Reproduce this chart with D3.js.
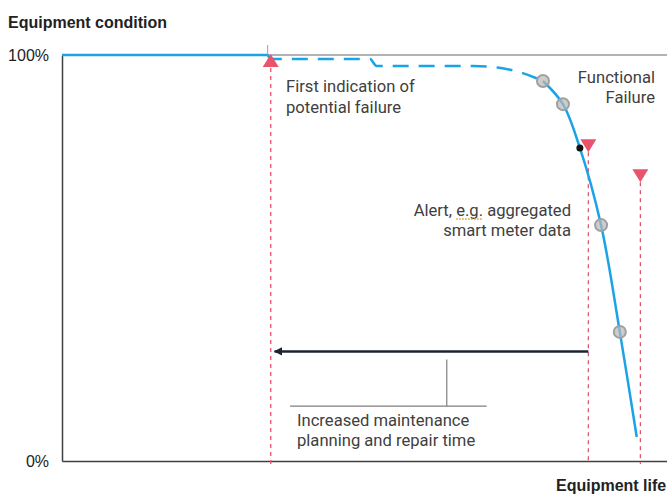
<!DOCTYPE html>
<html>
<head>
<meta charset="utf-8">
<script src="https://cdn.jsdelivr.net/npm/d3@7"></script>
<style>
  html, body { margin: 0; padding: 0; background: #fff; }
  svg { display: block; }
</style>
</head>
<body>
<svg id="chart"></svg>
<script>
// condition curve, x = % of equipment life, y = % condition
const solidStart = [[0, 100], [34, 100]];
const dashedPart = [[34, 100], [34.6, 99], [50.9, 99], [52, 97.3], [68, 97.3], [72, 96.9], [76, 95.6], [79.5, 93.6]];
const solidEnd = [[79.5, 93.6], [82.8, 87.9], [85.6, 77.1], [89.1, 58.1], [92.2, 31.8], [95, 5.9]];
// grey sample points on the curve
const samplePoints = [[79.5, 93.6], [82.8, 87.9], [89.1, 58.1], [92.2, 31.8]];
const alertPoint = [85.6, 77.1];
// markers: x position, y of triangle, direction
const markers = [
  { x: 34.5, y: 98.5, dir: "up" },
  { x: 87, y: 77.8, dir: "down" },
  { x: 95.6, y: 70.4, dir: "down" }
];
const yTicks = [0, 100];

const width = 667, height = 494;
const margin = { left: 62, right: 0, top: 55, bottom: 33 };

const svg = d3.select("#chart").attr("width", width).attr("height", height);

const x = d3.scaleLinear().domain([0, 100]).range([margin.left, width - margin.right]);
const y = d3.scaleLinear().domain([0, 100]).range([height - margin.bottom, margin.top]);

const textFont = "Roboto, 'Liberation Sans', Arial, sans-serif";
const axisFont = "'Liberation Sans', Arial, sans-serif";

// top grey reference line
svg.append("line")
    .attr("x1", x(34)).attr("x2", x(100))
    .attr("y1", y(100)).attr("y2", y(100))
    .attr("stroke", "#9a9a9a").attr("stroke-width", 1.5);
svg.append("line")
    .attr("x1", x(34)).attr("x2", x(34))
    .attr("y1", y(100) - 10).attr("y2", y(100))
    .attr("stroke", "#9a9a9a").attr("stroke-width", 1);

// axes
const yAxis = svg.append("g")
    .attr("transform", `translate(${margin.left},0)`)
    .call(d3.axisLeft(y).tickValues(yTicks).tickSize(0).tickPadding(13).tickFormat(d => d + "%"));
yAxis.select(".domain").attr("stroke", "#404040").attr("stroke-width", 1.5);
yAxis.selectAll("text").attr("font-family", axisFont).attr("font-size", 16).attr("fill", "#222");

const xAxis = svg.append("g")
    .attr("transform", `translate(0,${y(0)})`)
    .call(d3.axisBottom(x).tickValues([]).tickSizeOuter(0));
xAxis.select(".domain").attr("stroke", "#404040").attr("stroke-width", 1.5);

// axis titles
svg.append("text")
    .attr("x", 8).attr("y", 28)
    .attr("font-family", axisFont).attr("font-size", 16).attr("font-weight", "bold").attr("fill", "#222")
    .text("Equipment condition");
svg.append("text")
    .attr("x", 556).attr("y", 491)
    .attr("font-family", axisFont).attr("font-size", 16).attr("font-weight", "bold").attr("fill", "#222")
    .text("Equipment life");

// red dashed verticals
const red = "#e8546c";
svg.selectAll(".vline").data(markers).join("line")
    .attr("class", "vline")
    .attr("x1", d => x(d.x)).attr("x2", d => x(d.x))
    .attr("y1", d => y(d.y) + 7).attr("y2", y(0) + 3)
    .attr("stroke", red).attr("stroke-width", 1.3).attr("stroke-dasharray", "4,4");

// curve
const line = d3.line().x(d => x(d[0])).y(d => y(d[1])).curve(d3.curveMonotoneX);
const blue = "#1ba3e8";
svg.append("path").datum(solidStart).attr("d", line)
    .attr("fill", "none").attr("stroke", blue).attr("stroke-width", 2.5);
svg.append("path").datum(dashedPart).attr("d", line)
    .attr("fill", "none").attr("stroke", blue).attr("stroke-width", 2.5)
    .attr("stroke-dasharray", "16,10");
svg.append("path").datum(solidEnd).attr("d", d3.line().x(d => x(d[0])).y(d => y(d[1])).curve(d3.curveCatmullRom))
    .attr("fill", "none").attr("stroke", blue).attr("stroke-width", 2.5);

// sample points
svg.selectAll(".pt").data(samplePoints).join("circle")
    .attr("class", "pt")
    .attr("cx", d => x(d[0])).attr("cy", d => y(d[1])).attr("r", 6)
    .attr("fill", "#b8b8b8").attr("fill-opacity", 0.7)
    .attr("stroke", "#a0a0a0").attr("stroke-width", 2);
svg.append("circle")
    .attr("cx", x(alertPoint[0])).attr("cy", y(alertPoint[1])).attr("r", 3.5)
    .attr("fill", "#111");

// triangles
svg.selectAll(".tri").data(markers).join("path")
    .attr("class", "tri")
    .attr("transform", d => `translate(${x(d.x)},${y(d.y)})`)
    .attr("d", d => d.dir === "up" ? "M0,-7L8,6L-8,6Z" : "M-8,-6L8,-6L0,7Z")
    .attr("fill", red);

// maintenance arrow
svg.append("defs").append("marker")
    .attr("id", "arrow").attr("viewBox", "0 0 10 10")
    .attr("refX", 9).attr("refY", 5)
    .attr("markerWidth", 3.5).attr("markerHeight", 3.5)
    .attr("orient", "auto")
    .append("path").attr("d", "M0,0L10,5L0,10Z").attr("fill", "#1b2430");
svg.append("line")
    .attr("x1", x(87)).attr("x2", x(34.8) + 2)
    .attr("y1", y(27)).attr("y2", y(27))
    .attr("stroke", "#1b2430").attr("stroke-width", 2.5)
    .attr("marker-end", "url(#arrow)");

// callout bracket
svg.append("path")
    .attr("d", `M${x(63.6)},${y(25)}V${y(13.5)}M${x(37.7)},${y(13.5)}H${x(70.2)}`)
    .attr("fill", "none").attr("stroke", "#808080").attr("stroke-width", 1.2);

// annotations
function label(lines, px, py, anchor, gap) {
  const t = svg.append("text")
      .attr("font-family", textFont).attr("font-size", 16.6).attr("fill", "#404040")
      .attr("text-anchor", anchor);
  lines.forEach((s, i) => t.append("tspan").attr("x", px).attr("y", py + i * gap).text(s));
  return t;
}
label(["First indication of", "potential failure"], 286, 92, "start", 21);
label(["Functional", "Failure"], 655, 83, "end", 20);
const alert = label(["Alert, e.g. aggregated", "smart meter data"], 571, 216, "end", 20);
label(["Increased maintenance", "planning and repair time"], 297, 426, "start", 20);

// dotted underline under "e.g."
const first = alert.select("tspan").node();
const egStart = first.getStartPositionOfChar(7).x;
const egEnd = first.getEndPositionOfChar(10).x;
svg.append("line")
    .attr("x1", egStart).attr("x2", egEnd)
    .attr("y1", 219).attr("y2", 219)
    .attr("stroke", "#d4a017").attr("stroke-width", 1.5).attr("stroke-dasharray", "1.5,1.5");
</script>
</body>
</html>
